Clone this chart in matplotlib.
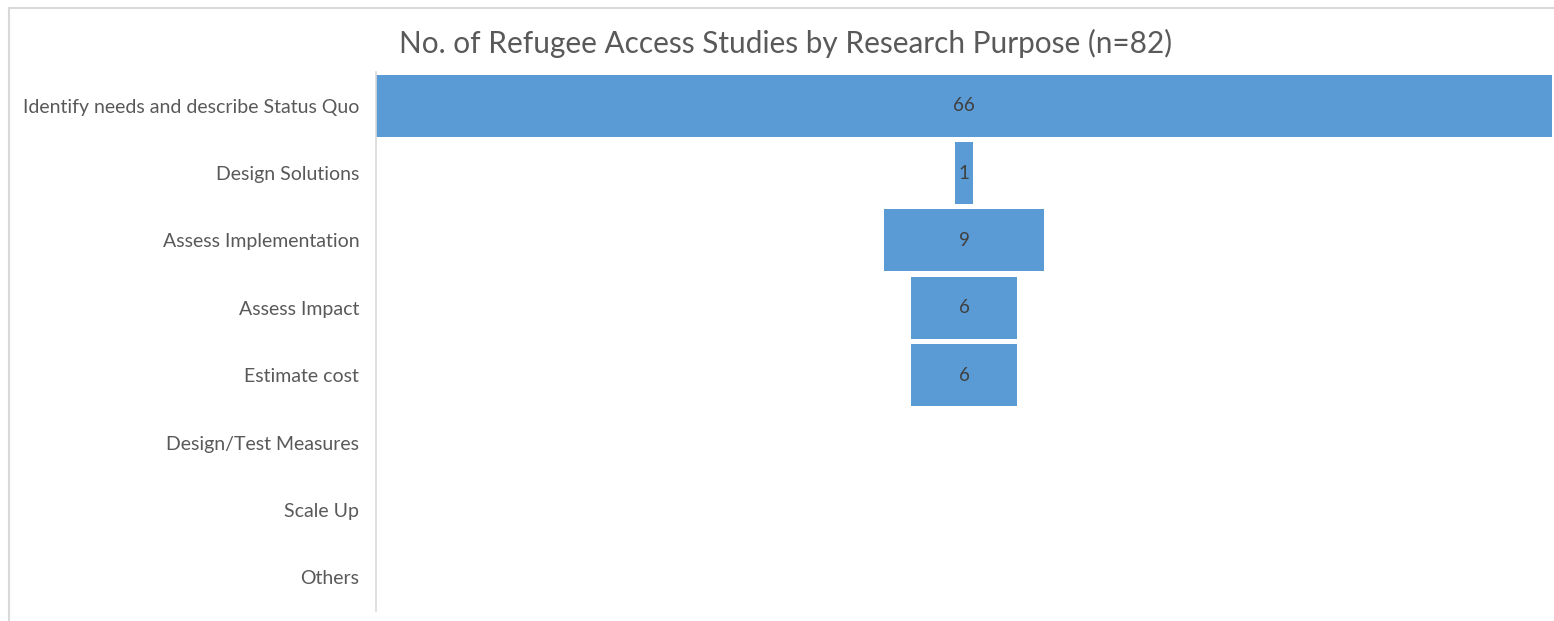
import matplotlib.pyplot as plt
from matplotlib.lines import Line2D

# Studies per research purpose (funnel order, top to bottom)
purposes = ['Identify needs and describe Status Quo', 'Design Solutions',
            'Assess Implementation', 'Assess Impact', 'Estimate cost',
            'Design/Test Measures', 'Scale Up', 'Others']
counts = [66, 1, 9, 6, 6, 0, 0, 0]

plt.rcParams['font.family'] = ['Lato', 'DejaVu Sans']

fig = plt.figure(figsize=(15.54, 6.21), dpi=100)
ax = fig.add_axes([376 / 1554, 0.016, 1176 / 1554, 0.868])

ypos = list(range(len(purposes)))
lefts = [-c / 2 for c in counts]
ax.barh(ypos, counts, left=lefts, height=0.92, color='#5B9BD5')

for y, c in zip(ypos, counts):
    if c > 0:
        ax.text(0, y, str(c), ha='center', va='center', fontsize=13.5,
                color='#404040')

ax.set_xlim(-33, 33)
ax.set_ylim(len(purposes) - 0.5, -0.5)
ax.set_yticks(ypos)
ax.set_yticklabels(purposes, fontsize=14, color='#595959')
ax.tick_params(axis='y', length=0, pad=12)
ax.set_xticks([])
for side in ['top', 'right', 'bottom']:
    ax.spines[side].set_visible(False)
ax.spines['left'].set_color('#d9d9d9')
ax.spines['left'].set_linewidth(1.2)

fig.text(786 / 1554, 1 - 43 / 621,
         'No. of Refugee Access Studies by Research Purpose (n=82)',
         ha='center', va='center', fontsize=21.4, color='#595959')

# light frame around the chart area
fig.add_artist(Line2D([9 / 1554, 9 / 1554], [0, 1 - 8 / 621],
                      transform=fig.transFigure, color='#d9d9d9', lw=1.5))
fig.add_artist(Line2D([9 / 1554, 1], [1 - 8 / 621, 1 - 8 / 621],
                      transform=fig.transFigure, color='#d9d9d9', lw=1.5))

fig.savefig('out.png', dpi=100)
